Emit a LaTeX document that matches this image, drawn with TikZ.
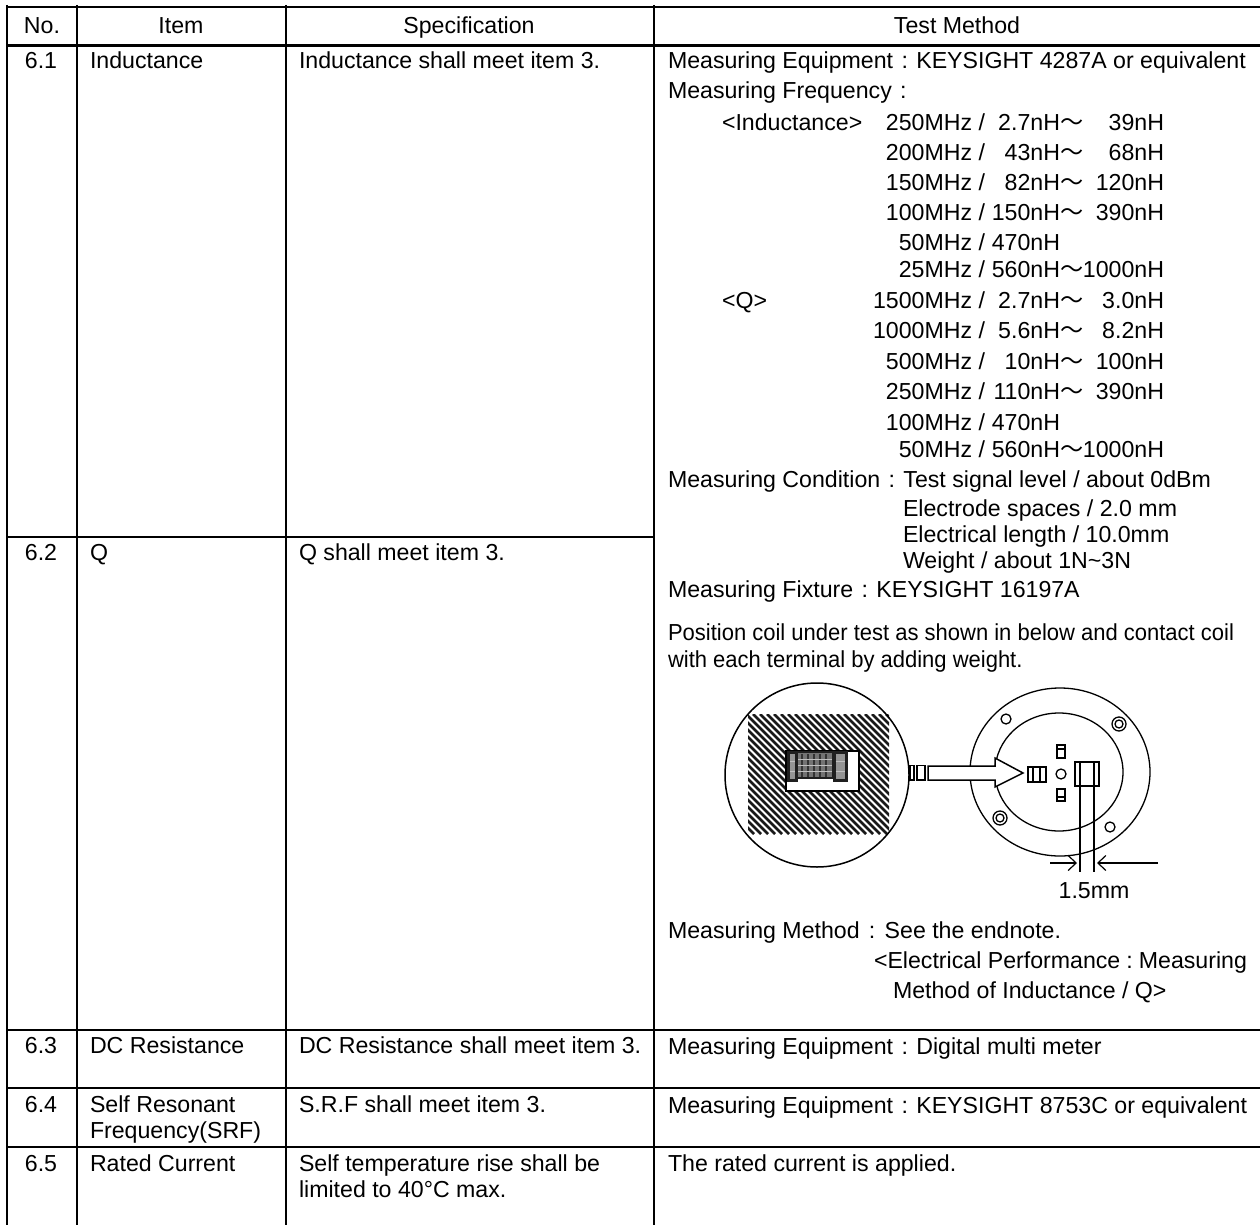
\documentclass[tikz,border=0pt]{standalone}
\usepackage{fontspec}
\setmainfont{Liberation Sans}
\newfontfamily\cjk{Noto Sans CJK JP}
\usetikzlibrary{arrows.meta}
\newcommand\Cl{\makebox[1em][c]{:}}
\newcommand\Wv{{\cjk ～}}
\newcommand\Tx[4]{\node[txt] (#1) at (#2,#3) {#4};}
\newcommand\Cn[4]{\node[txt,anchor=base] (#1) at (#2,#3) {#4};}
\newcommand\Fq[5]{\node[txt] (#1) at (855,#2) {\makebox[130pt][r]{#3 /}\makebox[75pt][r]{#4}\makebox[24pt][c]{\ifx\relax#5\relax\else\Wv\fi}\makebox[80pt][r]{#5}};}
\tikzset{
 x=1pt,y=-1pt,
 txt/.style={anchor=base west,inner sep=0pt,outer sep=0pt,yshift=-.5pt,font=\fontsize{23.15pt}{27pt}\selectfont,text=black},
 rule/.style={line width=2.6pt,black},
 thinrule/.style={line width=2.1pt,black},
 part/.style={line width=1.3pt,black},
 block/.style={line width=1.3pt,black,fill=white},
 dimline/.style={line width=1.2pt,black},
 dimarrow/.style={line width=1.2pt,black,-{Straight Barb[length=8pt,width=15pt,line width=1.2pt]}},
 hatch/.style={line width=2.5pt,black!90},
 coilend/.style={fill=black!42,draw=black!88,line width=3pt},
 coilbody/.style={fill=black!55,draw=black!88,line width=1.6pt},
 coilbar/.style={line width=1.5pt,black!80},
 coilgrid/.style={line width=.8pt,black!25}
}
\begin{document}
\begin{tikzpicture}
\useasboundingbox (0,0) rectangle (1260,1225);
\fill[white] (0,0) rectangle (1260,1225);
% table rules
\foreach \px in {7,77,286,654} \draw[rule] (\px,5) -- (\px,1225);
\draw[rule] (6,7) -- (1260,7);
\draw[rule] (6,45.5) -- (1260,45.5);
\draw[thinrule] (6,537) -- (654,537);
\draw[rule] (6,1030) -- (1260,1030);
\draw[rule] (6,1088) -- (1260,1088);
\draw[thinrule] (6,1147) -- (1260,1147);
% header
\Cn{hno}{42}{33.5}{No.}
\Cn{hit}{181}{33.5}{Item}
\Cn{hsp}{469}{33.5}{Specification}
\Cn{hte}{957}{33.5}{Test Method}
% left columns
\Cn{n1}{41}{68}{6.1} \Tx{i1}{90}{68}{Inductance} \Tx{s1}{299}{68}{Inductance shall meet item 3.}
\Cn{n2}{41}{560}{6.2} \Tx{i2}{90}{560}{Q} \Tx{s2}{299}{560}{Q shall meet item 3.}
\Cn{n3}{41}{1053}{6.3} \Tx{i3}{90}{1053}{DC Resistance} \Tx{s3}{299}{1053}{DC Resistance shall meet item 3.}
\Cn{n4}{41}{1112}{6.4} \Tx{i4a}{90}{1112}{Self Resonant} \Tx{i4b}{90}{1138}{Frequency(SRF)} \Tx{s4}{299}{1112}{S.R.F shall meet item 3.}
\Cn{n5}{41}{1171}{6.5} \Tx{i5}{90}{1171}{Rated Current} \Tx{s5a}{299}{1171}{Self temperature rise shall be} \Tx{s5b}{299}{1197}{limited to 40°C max.}
% test method
\Tx{t1}{668}{68}{Measuring Equipment\Cl KEYSIGHT 4287A or equivalent}
\Tx{t2}{668}{98}{Measuring Frequency\Cl}
\Tx{t3}{722}{130}{<Inductance>}
\Fq{f1}{130}{250MHz}{2.7nH}{39nH}
\Fq{f2}{160}{200MHz}{43nH}{68nH}
\Fq{f3}{190}{150MHz}{82nH}{120nH}
\Fq{f4}{220}{100MHz}{150nH}{390nH}
\Fq{f5}{250}{50MHz}{470nH}{}
\Fq{f6}{277}{25MHz}{560nH}{1000nH}
\Tx{t4}{722}{308}{<Q>}
\Fq{q1}{308}{1500MHz}{2.7nH}{3.0nH}
\Fq{q2}{338}{1000MHz}{5.6nH}{8.2nH}
\Fq{q3}{369}{500MHz}{10nH}{100nH}
\Fq{q4}{399}{250MHz}{110nH}{390nH}
\Fq{q5}{430}{100MHz}{470nH}{}
\Fq{q6}{457}{50MHz}{560nH}{1000nH}
\Tx{c1}{668}{487}{Measuring Condition\Cl Test signal level / about 0dBm}
\Tx{c2}{903}{516}{Electrode spaces / 2.0 mm}
\Tx{c3}{903}{542}{Electrical length / 10.0mm}
\Tx{c4}{903}{568}{Weight / about 1N\textasciitilde 3N}
\Tx{c5}{668}{597}{Measuring Fixture\Cl KEYSIGHT 16197A}
\node[txt] (p1) at (668,640) {\scalebox{.95}[1]{Position coil under test as shown in below and contact coil}};
\node[txt] (p2) at (668,667) {\scalebox{.95}[1]{with each terminal by adding weight.}};
\Tx{m1}{668}{938}{Measuring Method\makebox[1.08em][c]{:}See the endnote.}
\Tx{m2}{874}{968}{<Electrical Performance\makebox[.8em][c]{:}Measuring}
\Tx{m3}{893}{998}{Method of Inductance / Q>}
\Tx{t5}{668}{1054}{Measuring Equipment\Cl Digital multi meter}
\Tx{t6}{668}{1113}{Measuring Equipment\Cl KEYSIGHT 8753C or equivalent}
\Tx{t7}{668}{1171}{The rated current is applied.}
% left detail view
\begin{scope}
\clip (748,714) rectangle (889,834);
\foreach \o in {620,627,...,895} \draw[hatch] (\o,714) -- (\o+120,834);
\end{scope}
\draw[part,line width=1.5pt] (817,775) circle (92);
\draw[block] (786,751) rectangle (859,791);
\draw[coilbody] (797,752) rectangle (833,778);
\foreach \gx in {802,808,814,820,826} \draw[coilbar] (\gx,754) -- (\gx,777);
\foreach \gy in {759,765,771} \draw[coilgrid] (798,\gy) -- (832,\gy);
\draw[coilend] (788,752.5) rectangle (796,780);
\draw[coilend] (834,752.5) rectangle (846,780);
\foreach \gy in {761,771} {\draw[coilgrid] (789.5,\gy) -- (794.5,\gy); \draw[coilgrid] (835.5,\gy) -- (844.5,\gy);}
% right fixture
\draw[part] (1060,772) ellipse [x radius=90,y radius=84];
\draw[part] (1059,772) ellipse [x radius=64,y radius=59];
\foreach \hx/\hy in {1006/719,1110/827,1061/774} \draw[part,fill=white] (\hx,\hy) circle (5);
\foreach \hx/\hy in {1119/724,1000/818} {\draw[part,fill=white] (\hx,\hy) circle (7); \draw[part] (\hx,\hy) circle (4);}
\draw[block] (1057,745) rectangle (1065,758);
\draw[part] (1057,749) -- (1065,749);
\draw[block] (1057,789) rectangle (1065,801);
\draw[part] (1057,797) -- (1065,797);
\draw[block] (1028,767) rectangle (1046,782);
\draw[part] (1033,767) -- (1033,782) (1040,767) -- (1040,782);
\draw[block] (1075,762) rectangle (1099,786);
% measuring lines and dimension
\coordinate (wa) at (1080,786); \coordinate (wb) at (1080,872);
\coordinate (wc) at (1094,762); \coordinate (wd) at (1094,872);
\draw[dimline] (wa) -- (wb);
\draw[dimline] (wc) -- (wd);
\draw[dimline] (1080,762) -- (1080,786);
\coordinate (aL) at (1050,863); \coordinate (aLt) at (1077,863);
\coordinate (aR) at (1158,863); \coordinate (aRt) at (1097,863);
\draw[dimarrow] (aL) -- (aLt);
\draw[dimarrow] (aR) -- (aRt);
\Cn{dim}{1094}{898}{1.5mm}
% big arrow
\draw[block,line width=1.5pt] (928,766) -- (995,766) -- (995,758) -- (1023,773) -- (995,787) -- (995,780) -- (928,780) -- cycle;
\draw[block,line width=1.5pt] (917,765.5) rectangle (925,780);
\draw[block,line width=1.5pt] (910,765.5) rectangle (914,780);
\end{tikzpicture}
\end{document}
